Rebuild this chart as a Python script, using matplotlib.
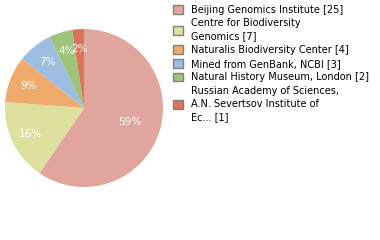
import numpy as np
import matplotlib
matplotlib.use("Agg")
import matplotlib.pyplot as plt

# institutions and specimen counts
labels = [
    "Beijing Genomics Institute [25]",
    "Centre for Biodiversity\nGenomics [7]",
    "Naturalis Biodiversity Center [4]",
    "Mined from GenBank, NCBI [3]",
    "Natural History Museum, London [2]",
    "Russian Academy of Sciences,\nA.N. Severtsov Institute of\nEc... [1]",
]
counts = [25, 7, 4, 3, 2, 1]
colors = ["#e0a59c", "#dde19d", "#efab6e", "#9dbde1", "#9dc47a", "#dc735b"]

fig = plt.figure(figsize=(3.8, 2.4), dpi=100)
ax = fig.add_axes([5 / 380, 53 / 240, 158 / 380, 158 / 240])

wedges, texts, pcts = ax.pie(
    counts, colors=colors, startangle=90, counterclock=False,
    autopct=lambda p: "%d%%" % int(p + 1e-9),
    pctdistance=0.75, textprops=dict(color="white", fontsize=7.5),
)
# big slice label sits closer to the centre
w = wedges[0]
mid = np.deg2rad((w.theta1 + w.theta2) / 2)
pcts[0].set_position((0.6 * np.cos(mid), 0.6 * np.sin(mid)))
ax.set_xlim(-1, 1)
ax.set_ylim(-1, 1)
ax.set_aspect("equal")

handles = [plt.Rectangle((0, 0), 1, 1, facecolor=c, edgecolor="#808080", linewidth=1) for c in colors]
leg = fig.legend(handles, labels, loc="upper left", bbox_to_anchor=(165 / 380, 1.0 + 3 / 240),
                 frameon=False, fontsize=7, handlelength=1.0, handleheight=1.0,
                 handletextpad=0.9, labelspacing=0.38, borderpad=0.3)
for t in leg.get_texts():
    t.set_linespacing(1.35)

fig.savefig("out.png", dpi=100)
